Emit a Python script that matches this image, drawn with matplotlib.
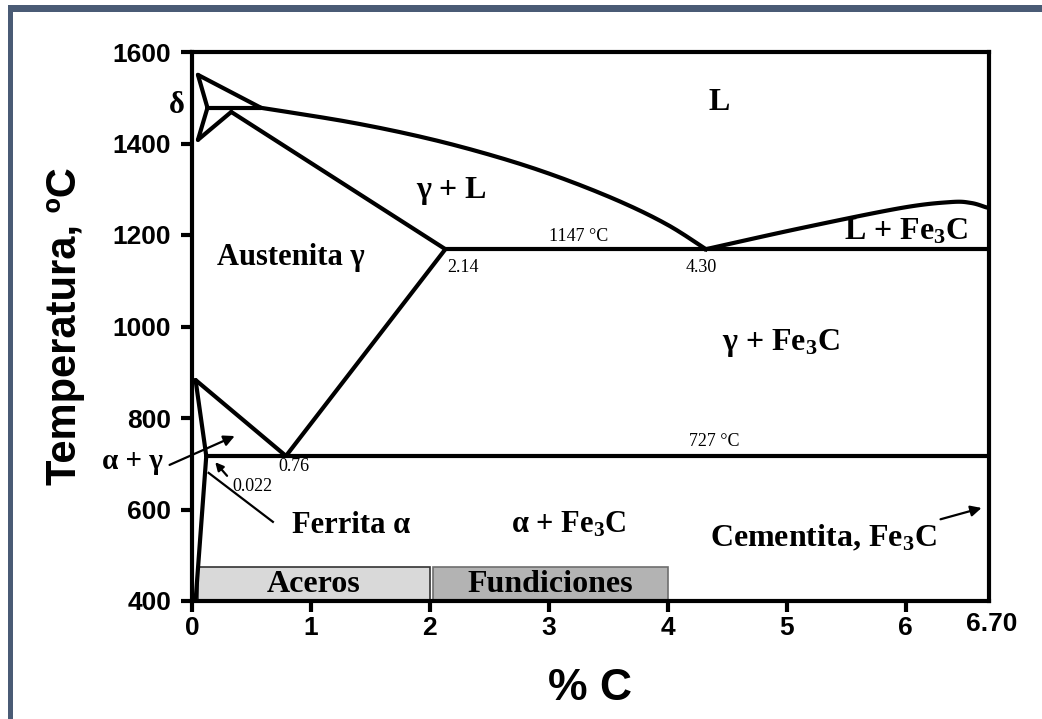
import numpy as np
import matplotlib
matplotlib.use("Agg")
import matplotlib.pyplot as plt
from matplotlib.patches import Rectangle
from matplotlib.transforms import blended_transform_factory

plt.rcParams["mathtext.fontset"] = "custom"
plt.rcParams["mathtext.rm"] = "Liberation Serif:bold"
plt.rcParams["mathtext.it"] = "Liberation Serif:bold"

# --- data (wt% C, temperature in C) ---
delta_x = [0.05, 0.13, 0.05]
delta_t = [1550, 1478, 1408]
delta_liq_x = [0.05, 0.58]
delta_liq_t = [1550, 1478]
perit_x = [0.13, 0.58]
perit_t = [1478, 1478]
gamma_start_x = [0.05, 0.33]
gamma_start_t = [1408, 1469]
liquidus_x = [0.58, 1.34, 2.00, 2.60, 3.10, 3.60, 4.00, 4.32]
liquidus_t = [1478, 1446, 1410, 1368, 1325, 1273, 1222, 1169]
solidus_x = [0.33, 2.13]
solidus_t = [1469, 1169]
cem_liq_x = [4.32, 5.12, 5.96, 6.38, 6.55, 6.67]
cem_liq_t = [1169, 1215, 1259, 1272, 1270, 1261]
eutectic_x = [2.13, 6.70]
eutectic_t = [1169, 1169]
acm_x = [2.13, 0.79]
acm_t = [1169, 717]
a3_x = [0.03, 0.79]
a3_t = [883, 717]
eutectoid_x = [0.12, 6.70]
eutectoid_t = [717, 717]
alpha_x = [0.03, 0.12, 0.03]
alpha_t = [883, 717, 400]

# product ranges
bar_names = ["Aceros", "Fundiciones"]
bar_start = [0.05, 2.03]
bar_end = [2.0, 4.0]
bar_top = 474
bar_colors = ["#d9d9d9", "#b3b3b3"]
bar_edges = ["#333333", "#6e6e6e"]

yticks = [400, 600, 800, 1000, 1200, 1400, 1600]
xticks = [0, 1, 2, 3, 4, 5, 6]


def smooth(xs, ts):
    # Catmull-Rom curve through the read points
    xs = np.asarray(xs, float)
    ts = np.asarray(ts, float)
    out_x, out_t = [], []
    for i in range(len(xs) - 1):
        p0 = max(i - 1, 0)
        p3 = min(i + 2, len(xs) - 1)
        for s in np.linspace(0, 1, 20, endpoint=False):
            def cr(a):
                a0, a1, a2, a3 = a[p0], a[i], a[i + 1], a[p3]
                return 0.5 * ((2 * a1) + (-a0 + a2) * s + (2 * a0 - 5 * a1 + 4 * a2 - a3) * s ** 2
                              + (-a0 + 3 * a1 - 3 * a2 + a3) * s ** 3)
            out_x.append(cr(xs))
            out_t.append(cr(ts))
    out_x.append(xs[-1])
    out_t.append(ts[-1])
    return out_x, out_t


fig = plt.figure(figsize=(10.42, 7.19), dpi=100)
ax = fig.add_axes([192 / 1042, 1 - 601 / 719, (989 - 192) / 1042, (601 - 52) / 719])

lw = 3.0
for xs, ts in [(delta_x, delta_t), (delta_liq_x, delta_liq_t), (perit_x, perit_t),
               (gamma_start_x, gamma_start_t), (solidus_x, solidus_t),
               (eutectic_x, eutectic_t), (acm_x, acm_t), (a3_x, a3_t),
               (eutectoid_x, eutectoid_t), (alpha_x, alpha_t)]:
    ax.plot(xs, ts, color="black", lw=lw, solid_capstyle="round", zorder=3)

lx, lt = smooth(liquidus_x, liquidus_t)
ax.plot(lx, lt, color="black", lw=lw, zorder=3)
cx, ct = smooth(cem_liq_x, cem_liq_t)
ax.plot(cx, ct, color="black", lw=lw, zorder=3)

for name, x0, x1, fc, ec in zip(bar_names, bar_start, bar_end, bar_colors, bar_edges):
    ax.add_patch(Rectangle((x0, 400), x1 - x0, bar_top - 400, facecolor=fc,
                           edgecolor=ec, lw=1.2, zorder=2))
    ax.text((x0 + x1) / 2, 436, name, ha="center", va="center",
            family="Liberation Serif", fontweight="bold", fontsize=23, zorder=4)

ax.set_xlim(0, 6.7)
ax.set_ylim(400, 1600)
ax.set_xticks(xticks)
ax.set_yticks(yticks)
for s in ax.spines.values():
    s.set_linewidth(3.0)
ax.tick_params(direction="out", length=8, width=3.0)
ax.tick_params(axis="x", pad=3)
ax.tick_params(axis="y", pad=7)
for lab in ax.get_xticklabels() + ax.get_yticklabels():
    lab.set_family("Liberation Sans")
    lab.set_fontweight("bold")
    lab.set_fontsize(19)
trans = blended_transform_factory(ax.transData, ax.transAxes)
ax.text(6.72, -0.02, "6.70", transform=trans, ha="center", va="top",
        family="Liberation Sans", fontweight="bold", fontsize=19)

ax.set_xlabel("% C", family="Liberation Sans", fontweight="bold", fontsize=32, labelpad=20)
ax.set_ylabel("Temperatura, ºC", family="Liberation Sans", fontweight="bold",
              fontsize=30, labelpad=20)

serif_b = dict(family="Liberation Serif", fontweight="bold", ha="center", va="center")
serif_r = dict(family="Liberation Serif", ha="center", va="center", fontsize=13)
ax.text(-0.13, 1484, "δ", fontsize=22, clip_on=False, **serif_b)
ax.text(4.43, 1489, "L", fontsize=23, **serif_b)
ax.text(2.18, 1298, "γ + L", fontsize=23, **serif_b)
ax.text(0.83, 1150, "Austenita γ", fontsize=22, **serif_b)
ax.text(6.0, 1207, "L + Fe$_3$C", fontsize=23, **serif_b)
ax.text(4.95, 964, "γ + Fe$_3$C", fontsize=23, **serif_b)
ax.text(-0.50, 704, "α + γ", fontsize=21, clip_on=False, **serif_b)
ax.text(1.34, 566, "Ferrita α", fontsize=22, **serif_b)
ax.text(3.17, 566, "α + Fe$_3$C", fontsize=22, **serif_b)
ax.text(5.31, 538, "Cementita, Fe$_3$C", fontsize=23, **serif_b)
ax.text(3.25, 1196, "1147 °C", **serif_r)
ax.text(2.28, 1130, "2.14", **serif_r)
ax.text(4.28, 1130, "4.30", **serif_r)
ax.text(4.39, 748, "727 °C", **serif_r)
ax.text(0.51, 651, "0.022", **serif_r)
ax.text(0.86, 695, "0.76", **serif_r)

arrow = dict(arrowstyle="-|>", color="black", lw=1.6, mutation_scale=16)
ax.annotate("", xy=(0.38, 763), xytext=(-0.21, 695), arrowprops=arrow, annotation_clip=False)
ax.annotate("", xy=(0.18, 708), xytext=(0.31, 669), arrowprops=dict(arrow, mutation_scale=12))
ax.annotate("", xy=(6.66, 605), xytext=(6.27, 577), arrowprops=arrow)
ax.plot([0.68, 0.14], [573, 680], color="black", lw=1.6, zorder=3)

# dark frame on top and left edge of the picture
frame = "#4a5b75"
fig.patches.append(Rectangle((8 / 1042, 1 - 12 / 719), 1, 7 / 719, transform=fig.transFigure,
                             facecolor=frame, edgecolor="none"))
fig.patches.append(Rectangle((8 / 1042, 0), 5 / 1042, 1 - 5 / 719, transform=fig.transFigure,
                             facecolor=frame, edgecolor="none"))

fig.savefig("out.png", dpi=100)
